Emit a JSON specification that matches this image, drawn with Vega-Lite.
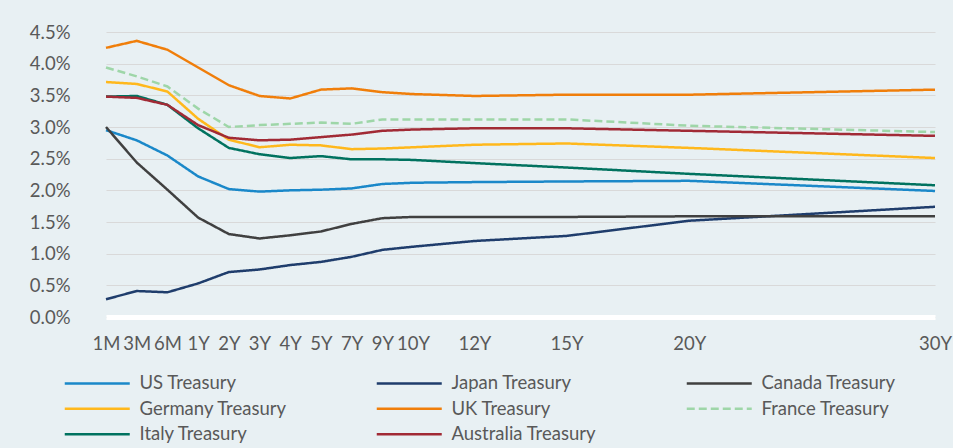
{
  "$schema": "https://vega.github.io/schema/vega-lite/v6.json",
  "width": 859,
  "height": 285,
  "autosize": "none",
  "padding": {"left": 91, "top": 32, "right": 3, "bottom": 131},
  "background": "#E8F0F3",
  "config": {"view": {"stroke": null}, "font": "Lato"},
  "data": {
    "values": [
      {"tenor": "1M", "years": 0.0833333, "US Treasury": 2.95, "Japan Treasury": 0.28, "Canada Treasury": 3.00, "Germany Treasury": 3.71, "UK Treasury": 4.25, "France Treasury": 3.94, "Italy Treasury": 3.48, "Australia Treasury": 3.48},
      {"tenor": "3M", "years": 0.25, "US Treasury": 2.79, "Japan Treasury": 0.41, "Canada Treasury": 2.44, "Germany Treasury": 3.68, "UK Treasury": 4.36, "France Treasury": 3.80, "Italy Treasury": 3.49, "Australia Treasury": 3.46},
      {"tenor": "6M", "years": 0.5, "US Treasury": 2.55, "Japan Treasury": 0.39, "Canada Treasury": 2.01, "Germany Treasury": 3.56, "UK Treasury": 4.22, "France Treasury": 3.64, "Italy Treasury": 3.35, "Australia Treasury": 3.35},
      {"tenor": "1Y", "years": 1, "US Treasury": 2.22, "Japan Treasury": 0.53, "Canada Treasury": 1.57, "Germany Treasury": 3.13, "UK Treasury": 3.94, "France Treasury": 3.29, "Italy Treasury": 2.98, "Australia Treasury": 3.03},
      {"tenor": "2Y", "years": 2, "US Treasury": 2.02, "Japan Treasury": 0.71, "Canada Treasury": 1.31, "Germany Treasury": 2.80, "UK Treasury": 3.66, "France Treasury": 3.00, "Italy Treasury": 2.67, "Australia Treasury": 2.83},
      {"tenor": "3Y", "years": 3, "US Treasury": 1.98, "Japan Treasury": 0.75, "Canada Treasury": 1.24, "Germany Treasury": 2.68, "UK Treasury": 3.49, "France Treasury": 3.03, "Italy Treasury": 2.57, "Australia Treasury": 2.79},
      {"tenor": "4Y", "years": 4, "US Treasury": 2.00, "Japan Treasury": 0.82, "Canada Treasury": 1.29, "Germany Treasury": 2.72, "UK Treasury": 3.45, "France Treasury": 3.05, "Italy Treasury": 2.51, "Australia Treasury": 2.80},
      {"tenor": "5Y", "years": 5, "US Treasury": 2.01, "Japan Treasury": 0.87, "Canada Treasury": 1.35, "Germany Treasury": 2.71, "UK Treasury": 3.59, "France Treasury": 3.07, "Italy Treasury": 2.54, "Australia Treasury": 2.84},
      {"tenor": "7Y", "years": 7, "US Treasury": 2.03, "Japan Treasury": 0.95, "Canada Treasury": 1.47, "Germany Treasury": 2.65, "UK Treasury": 3.61, "France Treasury": 3.05, "Italy Treasury": 2.49, "Australia Treasury": 2.88},
      {"tenor": "9Y", "years": 9, "US Treasury": 2.10, "Japan Treasury": 1.06, "Canada Treasury": 1.56, "Germany Treasury": 2.66, "UK Treasury": 3.55, "France Treasury": 3.12, "Italy Treasury": 2.49, "Australia Treasury": 2.94},
      {"tenor": "10Y", "years": 10, "US Treasury": 2.12, "Japan Treasury": 1.11, "Canada Treasury": 1.58, "Germany Treasury": 2.68, "UK Treasury": 3.52, "France Treasury": 3.12, "Italy Treasury": 2.48, "Australia Treasury": 2.96},
      {"tenor": "12Y", "years": 12, "US Treasury": 2.13, "Japan Treasury": 1.20, "Canada Treasury": 1.58, "Germany Treasury": 2.72, "UK Treasury": 3.49, "France Treasury": 3.12, "Italy Treasury": 2.43, "Australia Treasury": 2.98},
      {"tenor": "15Y", "years": 15, "US Treasury": 2.14, "Japan Treasury": 1.28, "Canada Treasury": 1.58, "Germany Treasury": 2.74, "UK Treasury": 3.51, "France Treasury": 3.12, "Italy Treasury": 2.36, "Australia Treasury": 2.98},
      {"tenor": "20Y", "years": 20, "US Treasury": 2.15, "Japan Treasury": 1.52, "Canada Treasury": 1.59, "Germany Treasury": 2.67, "UK Treasury": 3.51, "France Treasury": 3.02, "Italy Treasury": 2.26, "Australia Treasury": 2.94},
      {"tenor": "30Y", "years": 30, "US Treasury": 1.99, "Japan Treasury": 1.74, "Canada Treasury": 1.59, "Germany Treasury": 2.51, "UK Treasury": 3.59, "France Treasury": 2.92, "Italy Treasury": 2.08, "Australia Treasury": 2.86}
    ]
  },
  "transform": [
    {"fold": ["US Treasury", "Japan Treasury", "Canada Treasury", "Germany Treasury", "UK Treasury", "France Treasury", "Italy Treasury", "Australia Treasury"], "as": ["series", "yield"]}
  ],
  "mark": {"type": "line", "strokeWidth": 2.5},
  "encoding": {
    "x": {
      "field": "years",
      "type": "quantitative",
      "scale": {
        "type": "linear",
        "domain": [0.0833333, 0.25, 0.5, 1, 2, 3, 4, 5, 7, 9, 10, 12, 15, 20, 30],
        "range": [15, 45.7, 76.4, 107.1, 137.8, 168.5, 199.2, 229.9, 260.6, 291.3, 322, 383.4, 475.5, 598.3, 844]
      },
      "axis": {
        "title": null,
        "values": [0.0833333, 0.25, 0.5, 1, 2, 3, 4, 5, 7, 9, 10, 12, 15, 20, 30],
        "labelExpr": "datum.value < 1 ? format(round(datum.value * 12), 'd') + 'M' : format(datum.value, 'd') + 'Y'",
        "grid": false,
        "ticks": false,
        "domainColor": "#FFFFFF",
        "domainWidth": 5,
        "labelPadding": 17,
        "labelFontSize": 18.5,
        "labelColor": "#595959",
        "labelOverlap": false,
        "labelFlush": false
      }
    },
    "y": {
      "field": "yield",
      "type": "quantitative",
      "scale": {"domain": [0, 4.5], "nice": false, "zero": true},
      "axis": {
        "title": null,
        "values": [0, 0.5, 1, 1.5, 2, 2.5, 3, 3.5, 4, 4.5],
        "labelExpr": "format(datum.value, '.1f') + '%'",
        "domain": false,
        "ticks": false,
        "labelPadding": 21,
        "labelFontSize": 18.5,
        "labelColor": "#595959",
        "gridColor": "#D9D9D9",
        "gridWidth": 1
      }
    },
    "color": {
      "field": "series",
      "type": "nominal",
      "scale": {
        "domain": ["US Treasury", "Japan Treasury", "Canada Treasury", "Germany Treasury", "UK Treasury", "France Treasury", "Italy Treasury", "Australia Treasury"],
        "range": ["#1A88C9", "#1F3D6C", "#404040", "#FFB81C", "#F07E0A", "#9ED6A8", "#00725F", "#A12A35"]
      },
      "legend": {
        "orient": "none",
        "direction": "horizontal",
        "legendX": -3,
        "legendY": 342,
        "columns": 3,
        "title": null,
        "padding": 0,
        "symbolType": "M-5,0H5",
        "symbolSize": 169,
        "symbolStrokeWidth": 2.5,
        "labelOffset": 33,
        "labelFontSize": 18.5,
        "labelColor": "#595959",
        "columnPadding": 84,
        "rowPadding": 6.5
      }
    },
    "strokeDash": {
      "field": "series",
      "type": "nominal",
      "scale": {
        "domain": ["US Treasury", "Japan Treasury", "Canada Treasury", "Germany Treasury", "UK Treasury", "France Treasury", "Italy Treasury", "Australia Treasury"],
        "range": [[1, 0], [1, 0], [1, 0], [1, 0], [1, 0], [8, 4], [1, 0], [1, 0]]
      },
      "legend": {
        "orient": "none",
        "direction": "horizontal",
        "legendX": -3,
        "legendY": 342,
        "columns": 3,
        "title": null,
        "padding": 0,
        "symbolType": "M-5,0H5",
        "symbolSize": 169,
        "symbolStrokeWidth": 2.5,
        "labelOffset": 33,
        "labelFontSize": 18.5,
        "labelColor": "#595959",
        "columnPadding": 84,
        "rowPadding": 6.5
      }
    }
  }
}
